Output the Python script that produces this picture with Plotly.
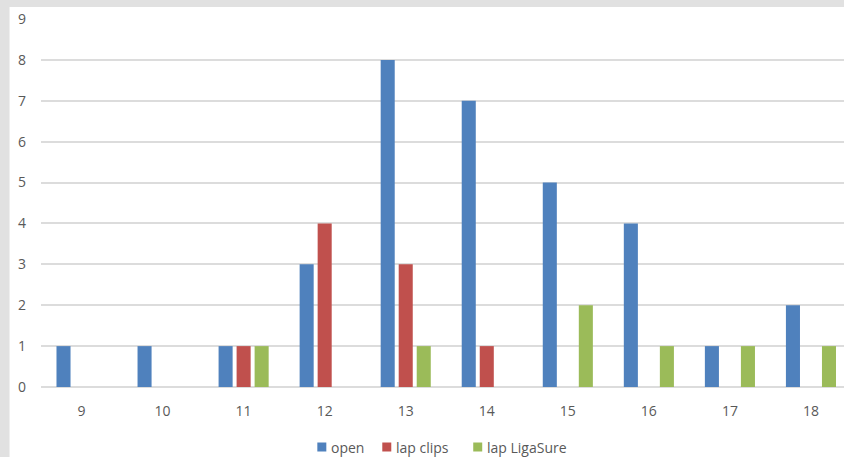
import plotly.graph_objects as go

# Age categories and counts per technique
ages = ["9", "10", "11", "12", "13", "14", "15", "16", "17", "18"]
open_counts = [1, 1, 1, 3, 8, 7, 5, 4, 1, 2]
lap_clips = [None, None, 1, 4, 3, 1, None, None, None, None]
lap_ligasure = [None, None, 1, None, 1, None, 2, 1, 1, 1]
y_ticks = list(range(0, 10))

series_names = ["open", "lap clips", "lap LigaSure"]
series_colors = ["#4f81bd", "#c0504d", "#9bbb59"]
series_values = [open_counts, lap_clips, lap_ligasure]

W, H = 844, 457
L, R, T, B = 40.5, 0, 19, 70
plot_w = W - L - R
plot_h = H - T - B

FONT = "Open Sans"
TXT = "#595959"
FS = 14


def px_x(px):
    return (px - L) / plot_w


def px_y(py):
    return (H - B - py) / plot_h


fig = go.Figure()
for name, color, vals in zip(series_names, series_colors, series_values):
    fig.add_trace(go.Bar(name=name, x=ages, y=vals, marker_color=color,
                         marker_line_width=0, showlegend=False))

# white chart panel inside a light grey frame (left and top edges)
fig.add_shape(type="rect", xref="paper", yref="paper",
              x0=px_x(9), x1=px_x(W + 5), y0=px_y(7), y1=px_y(H + 5),
              fillcolor="white", line_width=0, layer="below")

# legend row along the bottom: small swatch followed by its label
legend_swatch_left = [317, 382, 473]
legend_y = 447
for name, color, sx in zip(series_names, series_colors, legend_swatch_left):
    fig.add_shape(type="rect", xref="paper", yref="paper",
                  x0=px_x(sx), x1=px_x(sx + 9),
                  y0=px_y(legend_y + 4.5), y1=px_y(legend_y - 4.5),
                  fillcolor=color, line_width=0)
    fig.add_annotation(xref="paper", yref="paper", x=px_x(sx + 12),
                       y=px_y(legend_y), xanchor="left", yanchor="middle",
                       text=name, showarrow=False,
                       font=dict(family=FONT, size=FS, color=TXT))

# the category axis runs slightly past the right edge of the page
unit = 81.1
x_right = 9.5 - (L + 10 * unit - W) / unit

fig.update_layout(
    width=W, height=H,
    margin=dict(l=L, r=R, t=T, b=B, autoexpand=False),
    paper_bgcolor="#e1e1e1",
    plot_bgcolor="rgba(0,0,0,0)",
    barmode="group",
    bargap=0.333,
    bargroupgap=0.22,
    font=dict(family=FONT, size=FS, color=TXT),
    showlegend=False,
    xaxis=dict(type="category", range=[-0.5, x_right], showgrid=False,
               showline=False, zeroline=False, ticks="", automargin=False,
               ticklabelstandoff=14, tickfont=dict(size=FS, color=TXT)),
    yaxis=dict(range=[0, 9], tickvals=y_ticks, showgrid=True,
               gridcolor="#dcdcdc", gridwidth=1.5, zeroline=True,
               zerolinecolor="#dcdcdc", zerolinewidth=1.5, showline=False,
               ticks="", automargin=False, ticklabelstandoff=14,
               tickfont=dict(size=FS, color=TXT)),
)

fig.write_html("out.html")
